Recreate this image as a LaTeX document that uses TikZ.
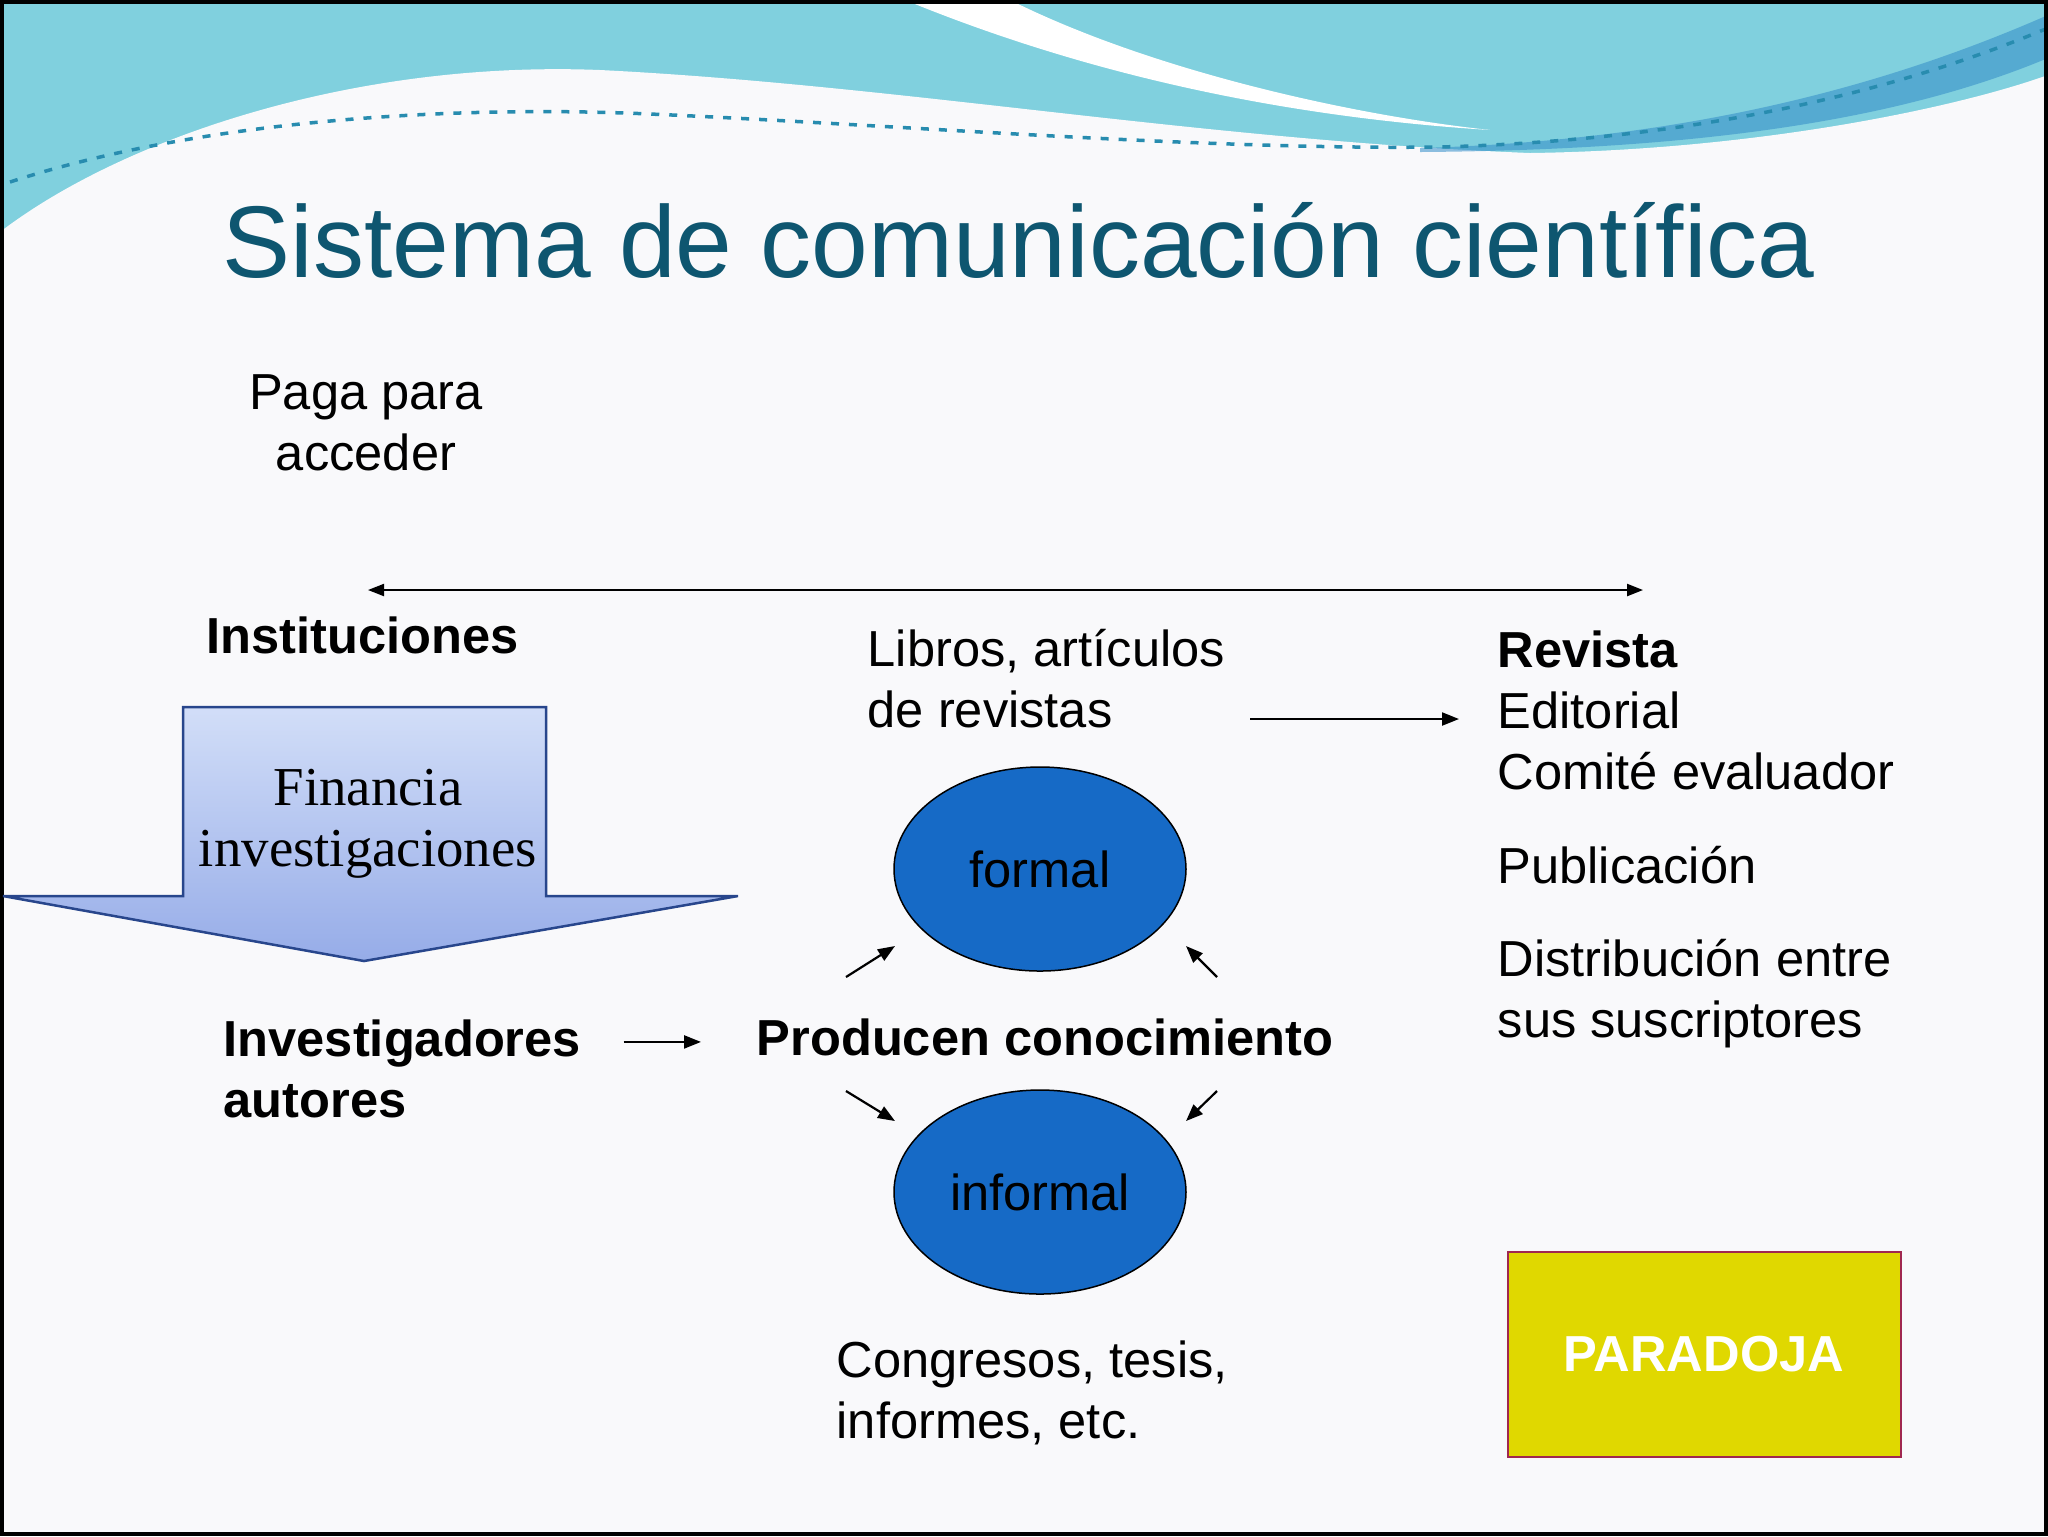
\documentclass[tikz,border=0pt]{standalone}
\usepackage{fontspec}
\setmainfont{Liberation Sans}
\newfontfamily\boxserif{Liberation Serif}
\usetikzlibrary{arrows.meta,positioning,shapes.geometric}

\definecolor{slidebg}{RGB}{249,249,251}
\definecolor{wavecyan}{RGB}{128,208,222}
\definecolor{wavedeep}{RGB}{50,140,200}
\definecolor{dotline}{RGB}{40,140,175}
\definecolor{titleteal}{RGB}{14,86,112}
\definecolor{arrowtop}{RGB}{210,222,248}
\definecolor{arrowbot}{RGB}{150,172,232}
\definecolor{arrowedge}{RGB}{40,70,140}
\definecolor{blobblue}{RGB}{22,106,198}
\definecolor{parafill}{RGB}{224,216,0}
\definecolor{paraedge}{RGB}{160,40,80}

\tikzset{
  slidetxt/.style={inner sep=0pt, align=left, font=\fontsize{14.4}{17.35}\selectfont},
  slidebf/.style={slidetxt, font=\fontsize{14.4}{17.35}\selectfont\bfseries},
  blob/.style={ellipse, draw=black, line width=0.15mm, fill=blobblue,
               minimum width=29.2mm, minimum height=20.4mm, inner sep=0pt,
               font=\fontsize{14.4}{17.35}\selectfont},
  parabox/.style={rectangle, draw=paraedge, line width=0.2mm, fill=parafill,
                  minimum width=39.3mm, minimum height=20.5mm, inner sep=0pt,
                  text=white, font=\fontsize{14.4}{17.35}\selectfont\bfseries},
  arr/.style={-{Triangle[length=1.7mm,width=1.3mm]}, line width=0.22mm},
  dblarr/.style={{Triangle[length=1.6mm,width=1.2mm]}-{Triangle[length=1.6mm,width=1.2mm]}, line width=0.22mm},
}

\begin{document}
\begin{tikzpicture}[x=0.1mm, y=-0.1mm]
  \useasboundingbox (0,0) rectangle (2048,1536);
  % slide background and banner
  \fill[slidebg] (0,0) rectangle (2048,1536);
  \fill[wavecyan] (0,0) rectangle (2048,240);
  \fill[slidebg] (0,232) .. controls (120,140) and (350,60) .. (600,70)
    .. controls (900,85) and (1200,140) .. (1530,153)
    .. controls (1750,150) and (1950,110) .. (2048,75) -- (2048,260) -- (0,260) -- cycle;
  \fill[white] (905,0) -- (1010,0) .. controls (1150,70) and (1350,115) .. (1490,130)
    .. controls (1300,118) and (1100,80) .. (905,0) -- cycle;
  \fill[wavedeep, opacity=0.55] (1420,148) .. controls (1700,140) and (1900,80) .. (2048,15)
    -- (2048,58) .. controls (1900,120) and (1700,150) .. (1420,152) -- cycle;
  \draw[dotline, line width=0.35mm, dash pattern=on 0.8mm off 1mm]
    (10,182) .. controls (200,120) and (450,105) .. (650,114)
    .. controls (900,125) and (1200,150) .. (1440,147)
    .. controls (1700,140) and (1900,90) .. (2048,28);
  \draw[black, line width=0.4mm] (2,2) rectangle (2046,1534);

  % title
  \node[inner sep=0pt, anchor=base west, text=titleteal, font=\fontsize{29}{34}\selectfont]
    (title) at (222,277) {Sistema de comunicación científica};

  % left column (multi-line nodes sit on their last baseline)
  \node[slidetxt, align=center, anchor=base] (pay) at (366,470) {Paga para\\acceder};
  \node[slidebf, anchor=base west] (inst) at (206,653) {Instituciones};
  \draw[top color=arrowtop, bottom color=arrowbot, draw=arrowedge, line width=0.25mm]
    (183,707) -- (546,707) -- (546,896) -- (738,896) -- (364,961)
    -- (3,896) -- (183,896) -- cycle;
  \node[inner sep=0pt, align=center, anchor=base, font=\boxserif\fontsize{15.6}{17.1}\selectfont]
    (fin) at (368,866) {Financia\\investigaciones};
  \node[slidebf, anchor=base west] (inv) at (223,1117) {Investigadores\\autores};

  % centre
  \node[slidetxt, anchor=base west] (lib) at (867,727) {Libros, artículos\\de revistas};
  \node[slidebf, anchor=base west] (prod) at (756,1055) {Producen conocimiento};
  \node[blob] (formal) at (1040,869) {formal};
  \node[blob] (informal) at (1040,1192) {informal};
  \node[slidetxt, anchor=base west] (cong) at (836,1438) {Congresos, tesis,\\informes, etc.};

  % right column
  \node[slidetxt, anchor=base west] (rev) at (1497,789) {\textbf{Revista}\\Editorial\\Comité evaluador};
  \node[slidetxt, anchor=base west] (pub) at (1497,883) {Publicación};
  \node[slidetxt, anchor=base west] (dist) at (1497,1037) {Distribución entre\\sus suscriptores};
  \node[parabox] (para) at (1704,1354) {PARADOJA};

  % arrows
  \coordinate (acc-l) at (368,590);
  \coordinate (acc-r) at (1643,590);
  \draw[dblarr] (acc-l) -- (acc-r);
  \coordinate (lib-out) at (1250,719);
  \coordinate (rev-in) at (1459,719);
  \draw[arr] (lib-out) -- (rev-in);
  \coordinate (prod-in) at ([yshift=-0.5mm]prod.west);
  \draw[arr, shorten <=4.2mm, shorten >=5.5mm] (inv.east |- prod-in) -- (prod-in);
  \coordinate (ul) at (846,977);  \coordinate (ul-h) at (895,946);
  \coordinate (ur) at (1217,977); \coordinate (ur-h) at (1186,946);
  \coordinate (ll) at (846,1091); \coordinate (ll-h) at (895,1121);
  \coordinate (lr) at (1217,1091); \coordinate (lr-h) at (1186,1121);
  \draw[arr] (ul) -- (ul-h);
  \draw[arr] (ur) -- (ur-h);
  \draw[arr] (ll) -- (ll-h);
  \draw[arr] (lr) -- (lr-h);
\end{tikzpicture}
\end{document}
